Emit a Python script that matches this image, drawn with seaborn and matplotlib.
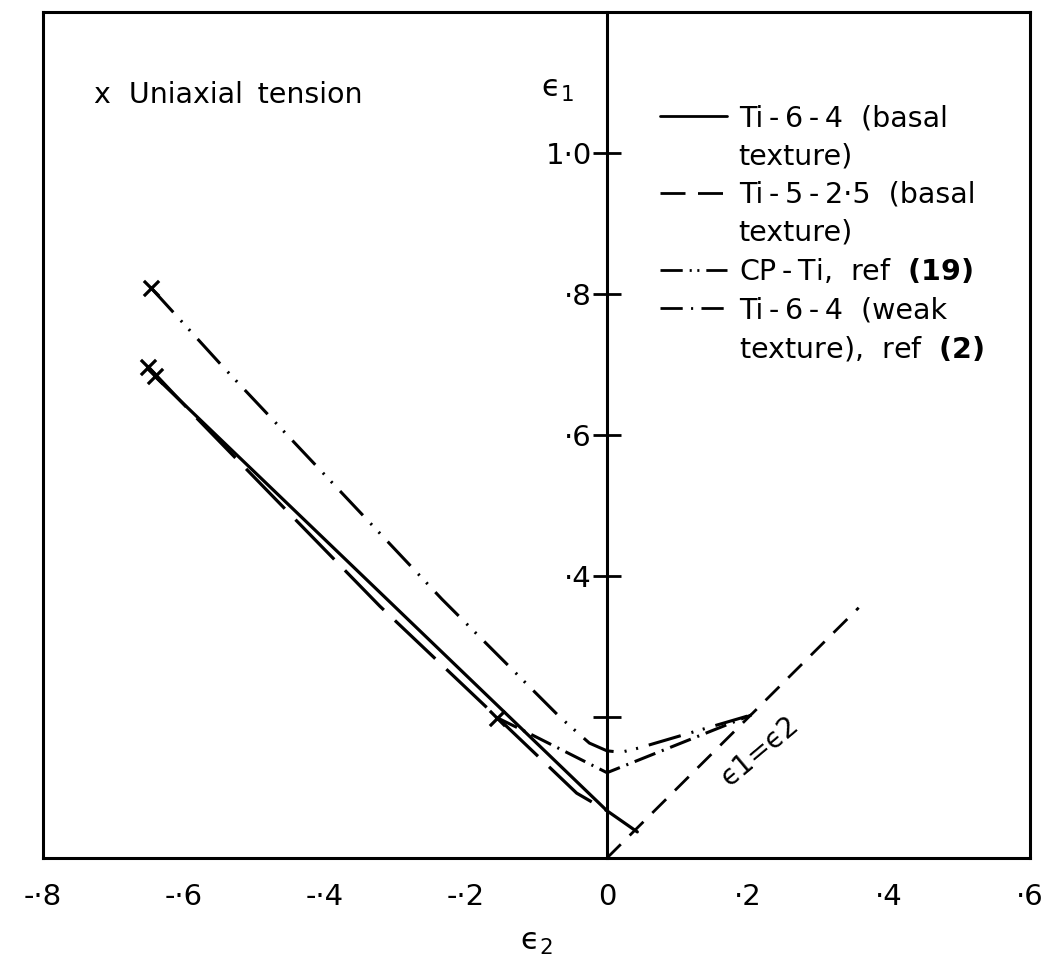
import matplotlib
matplotlib.use("Agg")
import matplotlib.pyplot as plt
from matplotlib.lines import Line2D
import seaborn as sns
import pandas as pd

# ---- data ----
ti64_basal_x = [-0.641, -0.312, 0.0, 0.043]
ti64_basal_y = [0.683, 0.367, 0.067, 0.037]

ti525_basal_x = [-0.651, -0.58, -0.44, -0.322, -0.15, -0.043, 0.0]
ti525_basal_y = [0.697, 0.622, 0.478, 0.357, 0.194, 0.092, 0.067]

cpti_x = [-0.647, -0.545, -0.234, -0.067, -0.025, 0.0, 0.02, 0.045, 0.205]
cpti_y = [0.809, 0.697, 0.367, 0.200, 0.163, 0.152, 0.150, 0.156, 0.203]

ti64_weak_x = [-0.156, -0.113, 0.0, 0.205]
ti64_weak_y = [0.199, 0.178, 0.121, 0.203]

equi_x = [0.0, 0.357]
equi_y = [0.0, 0.355]

uniaxial_x = [-0.647, -0.651, -0.641, -0.156]
uniaxial_y = [0.809, 0.697, 0.683, 0.199]

xticks = [-0.8, -0.6, -0.4, -0.2, 0.0, 0.2, 0.4, 0.6]
xticklabels = ["-·8", "-·6", "-·4", "-·2", "0", "·2", "·4", "·6"]
yticks = [0.2, 0.4, 0.6, 0.8, 1.0]
yticklabels = ["", "·4", "·6", "·8", "1·0"]

ts = "\u2009"
legend_labels = [f"Ti{ts}-{ts}6{ts}-{ts}4  (basal", "texture)",
                 f"Ti{ts}-{ts}5{ts}-{ts}2·5  (basal", "texture)",
                 f"CP{ts}-{ts}Ti,  ref  $\\mathbf{{(19)}}$",
                 f"Ti{ts}-{ts}6{ts}-{ts}4  (weak",
                 "texture),  ref  $\\mathbf{(2)}$"]

# ---- styling ----
sns.set_style("white")
plt.rcParams['font.family'] = ['DejaVu Sans']
plt.rcParams['mathtext.default'] = 'regular'
plt.rcParams['lines.scale_dashes'] = False
plt.rcParams['text.color'] = 'black'
plt.rcParams['axes.labelcolor'] = 'black'
plt.rcParams['xtick.color'] = 'black'
plt.rcParams['ytick.color'] = 'black'

fig = plt.figure(figsize=(10.48, 9.65), dpi=100)
ax = fig.add_axes([43/1048, 1 - 858/965, (1030-43)/1048, (858-12)/965])

solid_ls = '-'
long_dash = (0, (40, 11))
dash_dot_dot = (0, (24, 8, 1.5, 7, 1.5, 8))
dash_dot = (0, (16, 5, 1.5, 5))
equi_dash = (0, (14, 9))

def draw(xs, ys, ls, lw):
    df = pd.DataFrame({"x": xs, "y": ys})
    sns.lineplot(data=df, x="x", y="y", sort=False, estimator=None, ax=ax,
                 color="black", linewidth=lw, linestyle=ls)

draw(ti64_basal_x, ti64_basal_y, solid_ls, 2.3)
draw(ti525_basal_x, ti525_basal_y, long_dash, 2.3)
draw(cpti_x, cpti_y, dash_dot_dot, 2.2)
draw(ti64_weak_x, ti64_weak_y, dash_dot, 2.2)
draw(equi_x, equi_y, equi_dash, 2.0)

sns.scatterplot(x=uniaxial_x, y=uniaxial_y, marker="x", s=120, color="black",
                linewidth=2.3, ax=ax, zorder=5)

ax.set_xlim(-0.8, 0.6)
ax.set_ylim(0, 1.2)

for sp in ax.spines.values():
    sp.set_linewidth(2.2)
    sp.set_color("black")

ax.set_xticks(xticks)
ax.set_xticklabels(xticklabels, fontsize=21)
ax.tick_params(axis='x', direction='out', length=10, width=2, pad=8, colors='black')
ax.set_yticks([])
ax.set_xlabel("ϵ$_2$", fontsize=22, labelpad=12)
ax.set_ylabel("")

sec = ax.secondary_yaxis(0.8 / 1.4)
sec.yaxis.tick_left()
sec.set_yticks(yticks)
sec.set_yticklabels(yticklabels, fontsize=21)
sec.tick_params(direction='inout', length=20, width=2, pad=1, colors='black')
for sp in sec.spines.values():
    sp.set_linewidth(2.2)
    sp.set_color('black')

ax.text(-0.07, 1.09, "ϵ$_1$", fontsize=22, ha='center', va='center')
ax.text(0.052, 0.902, f"x  Uniaxial{ts} tension", fontsize=20.5, transform=ax.transAxes,
        ha='left', va='center')
ax.text(0.217, 0.151, "ϵ1=ϵ2", fontsize=20, rotation=40, ha='center', va='center',
        rotation_mode='anchor')

blank = Line2D([], [], color='none')
h1 = Line2D([], [], color='black', lw=2.0, linestyle=solid_ls)
h2 = Line2D([], [], color='black', lw=2.0, linestyle=(0, (18, 9)))
h3 = Line2D([], [], color='black', lw=2.0, linestyle=(0, (16, 5, 1.5, 4, 1.5, 5)))
h4 = Line2D([], [], color='black', lw=2.0, linestyle=(0, (16, 6, 1.5, 6)))
handles = [h1, blank, h2, blank, h3, h4, blank]
ax.legend(handles, legend_labels, loc='upper left', bbox_to_anchor=(0.625, 0.891),
          frameon=False, fontsize=20.5, handlelength=2.35, handletextpad=0.42,
          labelspacing=0.36, borderpad=0, borderaxespad=0)

fig.savefig("out.png", dpi=100)
